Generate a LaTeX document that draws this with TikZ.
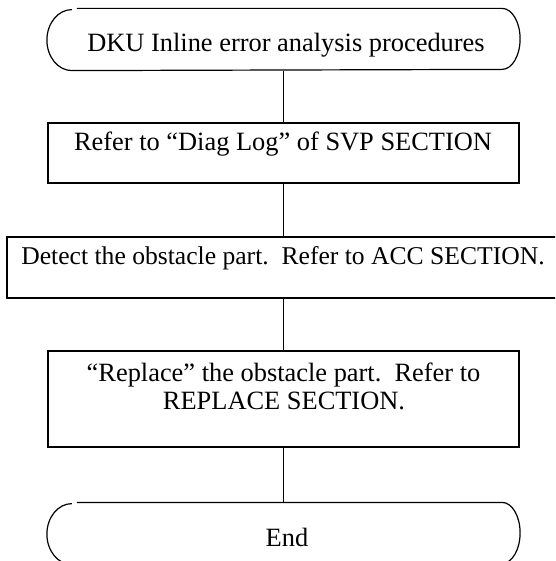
\documentclass[tikz,border=0pt]{standalone}
\usepackage{fontspec}
\setmainfont{Liberation Serif}
\begin{document}
\begin{tikzpicture}[x=1pt,y=1pt,line width=1.2pt,
  box/.style={draw, rectangle, inner sep=0pt},
  term/.style={rectangle, inner sep=0pt, minimum width=472pt, minimum height=61pt},
  txt/.style={anchor=base, inner sep=0pt, font=\fontsize{26.4}{28}\selectfont},
  smalltxt/.style={anchor=base, inner sep=0pt, font=\fontsize{25.6}{28}\selectfont},
  link/.style={draw}]
\fill[white] (0,0) rectangle (555,-561);
\useasboundingbox (0,0) rectangle (555,-561);
\begin{scope}
\clip (0,0) rectangle (555,-561);
% nodes
\node[term] (start) at (283.5,-39.5) {};
\node[box, minimum width=471pt, minimum height=60pt] (b2) at (283.5,-153) {};
\node[box, minimum width=553pt, minimum height=61pt] (b3) at (283.5,-267.5) {};
\node[box, minimum width=471pt, minimum height=96pt] (b4) at (283.5,-399) {};
\node[term] (stop) at (283.5,-533.5) {};
% terminal outlines
\draw ([xshift=30pt]start.north west) -- ([xshift=-18pt]start.north east)
  arc[start angle=90, end angle=-90, x radius=18pt, y radius=30.5pt]
  -- ([xshift=25pt]start.south west)
  arc[start angle=270, end angle=90, x radius=25pt, y radius=30.5pt];
\draw ([xshift=30pt]stop.north west) -- ([xshift=-18pt]stop.north east)
  arc[start angle=90, end angle=-90, x radius=18pt, y radius=30.5pt]
  -- ([xshift=25pt]stop.south west)
  arc[start angle=270, end angle=90, x radius=25pt, y radius=30.5pt];
% texts
\node[txt] (t1) at (286,-52) {DKU Inline error analysis procedures};
\node[txt] (t2) at (283,-151) {Refer to “Diag Log” of SVP SECTION};
\node[smalltxt] (t3) at (283,-264) {Detect the obstacle part.\ \ Refer to ACC SECTION.};
\node[txt] (t4a) at (283.5,-381) {“Replace” the obstacle part.\ \ Refer to};
\node[txt] (t4b) at (284,-409) {REPLACE SECTION.};
\node[txt] (t5) at (287,-546) {End};
% connectors
\draw[link] (start.south) -- (b2.north);
\draw[link] (b2.south) -- (b3.north);
\draw[link] (b3.south) -- (b4.north);
\draw[link] (b4.south) -- (stop.north);
\end{scope}
\end{tikzpicture}
\end{document}
